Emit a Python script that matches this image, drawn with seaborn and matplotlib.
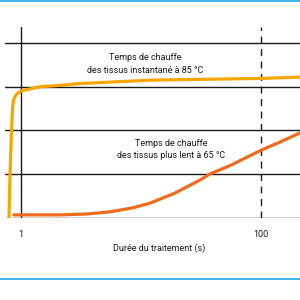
import matplotlib
matplotlib.use("Agg")
import matplotlib.pyplot as plt
import seaborn as sns
import pandas as pd
from matplotlib.lines import Line2D

sns.set_style("white")
plt.rcParams['font.family'] = ['Roboto', 'DejaVu Sans']

# Instant heating curve (85 °C)
fast_x = [0.794, 0.81, 0.833, 0.85, 0.865, 0.89, 0.93, 1.0, 1.1, 1.2, 1.44, 2.11, 3.0, 12.0, 101.0, 211.0]
fast_y = [0.0, 1.0, 1.98, 2.5, 2.68, 2.77, 2.84, 2.9, 2.93, 2.95, 3.0, 3.03, 3.07, 3.15, 3.19, 3.22]
# Slower heating curve (65 °C)
slow_x = [0.874, 1.5, 2.11, 3.5, 5.5, 8.5, 11.9, 19.2, 31.0, 37.6, 55.1, 101.2, 144.0, 211.0]
slow_y = [0.06, 0.06, 0.06, 0.08, 0.13, 0.22, 0.33, 0.56, 0.86, 1.0, 1.19, 1.55, 1.73, 1.94]

tick_vals = [1, 100]
tick_labels = ["1", "100"]
xlabel = "Durée du traitement (s)"
label_fast = "Temps de chauffe\ndes tissus instantané à 85 °C"
label_slow = "Temps de chauffe\ndes tissus plus lent à 65 °C"

df_fast = pd.DataFrame({"x": fast_x, "y": fast_y})
df_slow = pd.DataFrame({"x": slow_x, "y": slow_y})

fig = plt.figure(figsize=(3, 3), dpi=100)
ax = fig.add_axes([5/300, (300-217.5)/300, 295/300, (217.5-27)/300])
ax.set_xscale("log")
ax.set_xlim(10**(-16/120), 10**(279/120))
ax.set_ylim(0, (217.5-27)/43.6)

for yv in range(5):
    ax.axhline(yv, color="#1a1a1a", lw=1.0, zorder=1)
ax.axvline(1, color="#1a1a1a", lw=1.0, zorder=1)
ax.axvline(100, color="#1a1a1a", lw=1.0, ls=(0, (5, 4)), zorder=1)

sns.lineplot(data=df_fast, x="x", y="y", ax=ax, color="#f7a600", lw=2.3,
             sort=False, estimator=None, zorder=3)
sns.lineplot(data=df_slow, x="x", y="y", ax=ax, color="#f06a1c", lw=2.3,
             sort=False, estimator=None, zorder=3)

for s in ax.spines.values():
    s.set_visible(False)
ax.set_xticks(tick_vals)
ax.set_xticklabels(tick_labels, fontsize=6.5, color="#1a1a1a")
ax.xaxis.set_minor_locator(matplotlib.ticker.NullLocator())
ax.tick_params(axis="x", length=0, pad=9)
ax.set_yticks([])
ax.set_xlabel("")
ax.set_ylabel("")

fig.text(145/300, 1-64/300, label_fast, ha="center", va="center", fontsize=6.5,
         color="#1a1a1a", linespacing=1.45)
fig.text(171/300, 1-149.5/300, label_slow, ha="center", va="center", fontsize=6.5,
         color="#1a1a1a", linespacing=1.45)
fig.text(159/300, 1-248/300, xlabel, ha="center", va="center", fontsize=6.5,
         color="#1a1a1a")

fig.add_artist(Line2D([0, 1], [1-1/300, 1-1/300], color="#2aa7e8", lw=1.2, transform=fig.transFigure))
fig.add_artist(Line2D([0, 1], [1-279/300, 1-279/300], color="#2aa7e8", lw=1.2, transform=fig.transFigure))

fig.savefig("out.png", dpi=100)
